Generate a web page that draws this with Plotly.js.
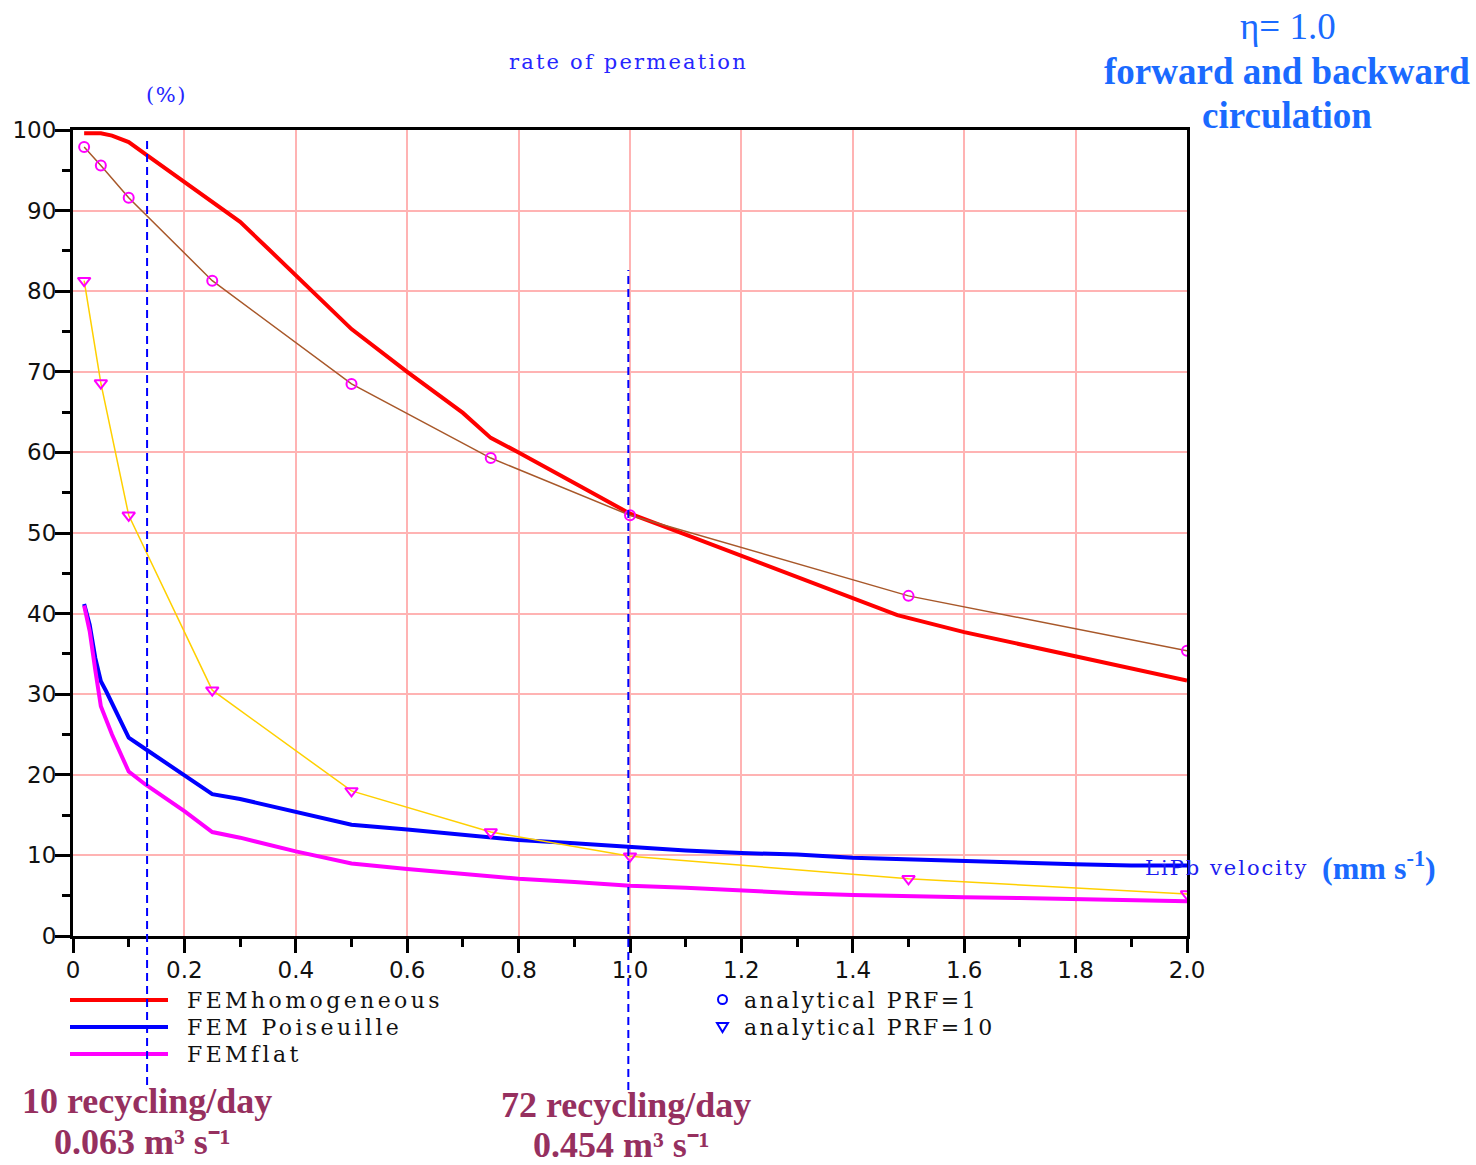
<!DOCTYPE html>
<html>
<head>
<meta charset="utf-8">
<script src="https://cdn.plot.ly/plotly-3.0.1.min.js"></script>
<style>html,body{margin:0;padding:0;background:#fff;}</style>
</head>
<body>
<div id="chart" style="width:1476px;height:1165px;"></div>
<script>
// ---- data ----
const xHomog = [0.02, 0.05, 0.07, 0.1, 0.13, 0.15, 0.2, 0.25, 0.3, 0.35, 0.4, 0.5, 0.6, 0.7, 0.75, 0.8, 0.9, 1.0, 1.1, 1.2, 1.3, 1.4, 1.48, 1.6, 1.7, 1.8, 1.9, 2.0];
const yHomog = [99.6, 99.6, 99.3, 98.5, 97.0, 96.0, 93.6, 91.0, 88.6, 85.3, 82.0, 75.3, 70.0, 64.9, 61.8, 60.0, 56.2, 52.4, 49.8, 47.2, 44.6, 42.0, 39.8, 37.7, 36.2, 34.8, 33.2, 31.7];

const xPois = [0.02, 0.03, 0.04, 0.05, 0.06, 0.08, 0.1, 0.13, 0.2, 0.25, 0.3, 0.4, 0.5, 0.6, 0.7, 0.8, 0.9, 1.0, 1.1, 1.2, 1.3, 1.4, 1.5, 1.6, 1.7, 1.8, 1.9, 2.0];
const yPois = [41.2, 38.6, 34.5, 31.6, 30.3, 27.4, 24.6, 23.2, 19.9, 17.6, 17.0, 15.4, 13.8, 13.2, 12.5, 11.9, 11.5, 11.0, 10.6, 10.3, 10.1, 9.7, 9.5, 9.25, 9.0, 8.9, 8.75, 8.75];

const xFlat = [0.02, 0.03, 0.04, 0.05, 0.07, 0.1, 0.13, 0.2, 0.25, 0.3, 0.4, 0.5, 0.6, 0.7, 0.8, 0.9, 1.0, 1.1, 1.2, 1.3, 1.4, 1.5, 1.6, 1.7, 1.8, 1.9, 2.0];
const yFlat = [41.0, 37.8, 33.0, 28.5, 25.0, 20.4, 18.8, 15.5, 12.9, 12.2, 10.5, 9.0, 8.3, 7.7, 7.1, 6.7, 6.25, 6.0, 5.6, 5.3, 5.1, 4.9, 4.8, 4.7, 4.6, 4.4, 4.3];

const xAnalytic = [0.02, 0.05, 0.1, 0.25, 0.5, 0.75, 1.0, 1.5, 2.0];
const yPRF1 = [97.9, 95.6, 91.6, 81.3, 68.5, 59.3, 52.2, 42.2, 35.4];
const yPRF10 = [81.3, 68.6, 52.2, 30.5, 18.0, 12.9, 9.9, 7.1, 5.2];

const xTickVals = [0, 0.2, 0.4, 0.6, 0.8, 1.0, 1.2, 1.4, 1.6, 1.8, 2.0];
const xTickText = ['0', '0.2', '0.4', '0.6', '0.8', '1.0', '1.2', '1.4', '1.6', '1.8', '2.0'];
const yTickVals = [0, 10, 20, 30, 40, 50, 60, 70, 80, 90, 100];
const yTickText = ['0', '10', '20', '30', '40', '50', '60', '70', '80', '90', '100'];

const refVelocities = [0.133, 0.997];
const refLabels = ['<b>10 recycling/day</b>', '<b>72 recycling/day</b>'];
const refFlows = ['<b>0.063 m³ s⁻¹</b>', '<b>0.454 m³ s⁻¹</b>'];

const lineNames = ['FEMhomogeneous', 'FEM Poiseuille', 'FEMflat'];
const markerNames = ['analytical PRF=1', 'analytical PRF=10'];

// ---- layout helpers (pixel -> paper) ----
const L = 73, R = 1187, T = 130, B = 936;
const px = x => (x - L) / (R - L);
const py = y => (B - y) / (B - T);

const traces = [
  {x: xHomog, y: yHomog, mode: 'lines', line: {color: '#ff0000', width: 4}, showlegend: false, hoverinfo: 'skip'},
  {x: xPois, y: yPois, mode: 'lines', line: {color: '#0000ff', width: 4}, showlegend: false, hoverinfo: 'skip'},
  {x: xFlat, y: yFlat, mode: 'lines', line: {color: '#ff00ff', width: 4}, showlegend: false, hoverinfo: 'skip'},
  {x: xAnalytic, y: yPRF1, mode: 'lines+markers', line: {color: '#a8582a', width: 1.5},
   marker: {symbol: 'circle-open', size: 10, color: '#ff00ff', line: {width: 2, color: '#ff00ff'}}, showlegend: false, hoverinfo: 'skip'},
  {x: xAnalytic, y: yPRF10, mode: 'lines+markers', line: {color: '#ffd000', width: 1.5},
   marker: {symbol: 'triangle-down-open', size: 11, color: '#ff00ff', line: {width: 2, color: '#ff00ff'}}, showlegend: false, hoverinfo: 'skip'}
];

const serifMono = 'DejaVu Serif';
const blueTxt = '#2626ff';
const lightBlue = '#1a6aff';
const maroon = '#96305f';
const sp = (t, s) => '<span style="letter-spacing:' + s + 'px">' + t + '</span>';

const annotations = [
  {text: sp('rate of permeation', 2.2), x: px(628), y: py(62), font: {family: serifMono, size: 21, color: blueTxt}},
  {text: sp('(%)', 1.5), x: px(166), y: py(95), font: {family: serifMono, size: 21, color: blueTxt}},
  {text: 'η= 1.0', x: px(1288), y: py(27), font: {family: 'Liberation Serif', size: 37, color: lightBlue}},
  {text: '<b>forward and backward</b>', x: px(1287), y: py(71), font: {family: 'Liberation Serif', size: 37, color: lightBlue}},
  {text: '<b>circulation</b>', x: px(1287), y: py(115), font: {family: 'Liberation Serif', size: 37, color: lightBlue}},
  {text: sp('LiPb velocity', 2), x: px(1143), y: py(868), xanchor: 'left', font: {family: serifMono, size: 21, color: '#1c1cf0'}},
  {text: '<b>(mm s<sup>-1</sup>)</b>', x: px(1320), y: py(866), xanchor: 'left', font: {family: 'Liberation Serif', size: 32, color: lightBlue}},
  {text: refLabels[0], x: px(147), y: py(1101), font: {family: 'Liberation Serif', size: 36, color: maroon}},
  {text: refFlows[0], x: px(142), y: py(1142), font: {family: 'Liberation Serif', size: 36, color: maroon}},
  {text: refLabels[1], x: px(626), y: py(1105), font: {family: 'Liberation Serif', size: 36, color: maroon}},
  {text: refFlows[1], x: px(621), y: py(1145), font: {family: 'Liberation Serif', size: 36, color: maroon}}
];

const legendLineColors = ['#ff0000', '#0000ff', '#ff00ff'];
const legendRowsY = [1000, 1027, 1054];
const shapes = [];
lineNames.forEach((n, i) => {
  shapes.push({type: 'line', xref: 'paper', yref: 'paper', x0: px(70), x1: px(168), y0: py(legendRowsY[i]), y1: py(legendRowsY[i]),
    line: {color: legendLineColors[i], width: 4}});
  annotations.push({text: sp(n, 3.4), x: px(185), y: py(legendRowsY[i]), xanchor: 'left',
    font: {family: serifMono, size: 22, color: '#111'}});
});
markerNames.forEach((n, i) => {
  annotations.push({text: sp(n, 2.5), x: px(742), y: py(legendRowsY[i]), xanchor: 'left',
    font: {family: serifMono, size: 22, color: '#111'}});
});
// legend symbols
shapes.push({type: 'circle', xref: 'paper', yref: 'paper', x0: px(718), x1: px(727), y0: py(1004), y1: py(995),
  line: {color: '#0000ff', width: 2}});
shapes.push({type: 'path', xref: 'paper', yref: 'paper',
  path: 'M ' + px(717) + ' ' + py(1023) + ' L ' + px(728) + ' ' + py(1023) + ' L ' + px(722.5) + ' ' + py(1032) + ' Z',
  line: {color: '#0000ff', width: 2}});

// reference dashed lines
shapes.push({type: 'line', xref: 'x', yref: 'paper', x0: refVelocities[0], x1: refVelocities[0], y0: py(1085), y1: py(140),
  line: {color: '#0000ff', width: 2, dash: '8px,5px'}});
shapes.push({type: 'line', xref: 'x', yref: 'paper', x0: refVelocities[1], x1: refVelocities[1], y0: py(1090), y1: py(270),
  line: {color: '#0000ff', width: 2, dash: '8px,5px'}});

annotations.forEach(a => {
  a.xref = a.xref || 'paper'; a.yref = a.yref || 'paper';
  a.showarrow = false;
  if (!a.xanchor) a.xanchor = 'center';
  a.yanchor = 'middle';
});

const axisCommon = {
  showline: true, linecolor: '#000', linewidth: 3, mirror: true,
  showgrid: true, gridcolor: '#ffb3b3', gridwidth: 2, zeroline: false,
  ticks: 'outside', tickcolor: '#000', tickwidth: 3,
  tickfont: {family: 'DejaVu Sans', size: 23, color: '#111'},
  tickmode: 'array', fixedrange: true
};

const layout = {
  width: 1476, height: 1165, autosize: false,
  margin: {l: L, r: 1476 - R, t: T, b: 1165 - B, pad: 0},
  paper_bgcolor: '#fff', plot_bgcolor: '#fff',
  showlegend: false,
  xaxis: Object.assign({}, axisCommon, {range: [0, 2.0], tickvals: xTickVals, ticktext: xTickText, ticklen: 14, ticklabelstandoff: -3,
    minor: {tickvals: [0.1, 0.3, 0.5, 0.7, 0.9, 1.1, 1.3, 1.5, 1.7, 1.9], ticks: 'outside', ticklen: 8, tickwidth: 3, tickcolor: '#000', showgrid: false}}),
  yaxis: Object.assign({}, axisCommon, {range: [0, 100], tickvals: yTickVals, ticktext: yTickText, ticklen: 15, ticklabelstandoff: -6,
    minor: {tickvals: [5, 15, 25, 35, 45, 55, 65, 75, 85, 95], ticks: 'outside', ticklen: 8, tickwidth: 3, tickcolor: '#000', showgrid: false}}),
  annotations: annotations,
  shapes: shapes
};

Plotly.newPlot('chart', traces, layout, {staticPlot: true, displayModeBar: false});
</script>
</body>
</html>
